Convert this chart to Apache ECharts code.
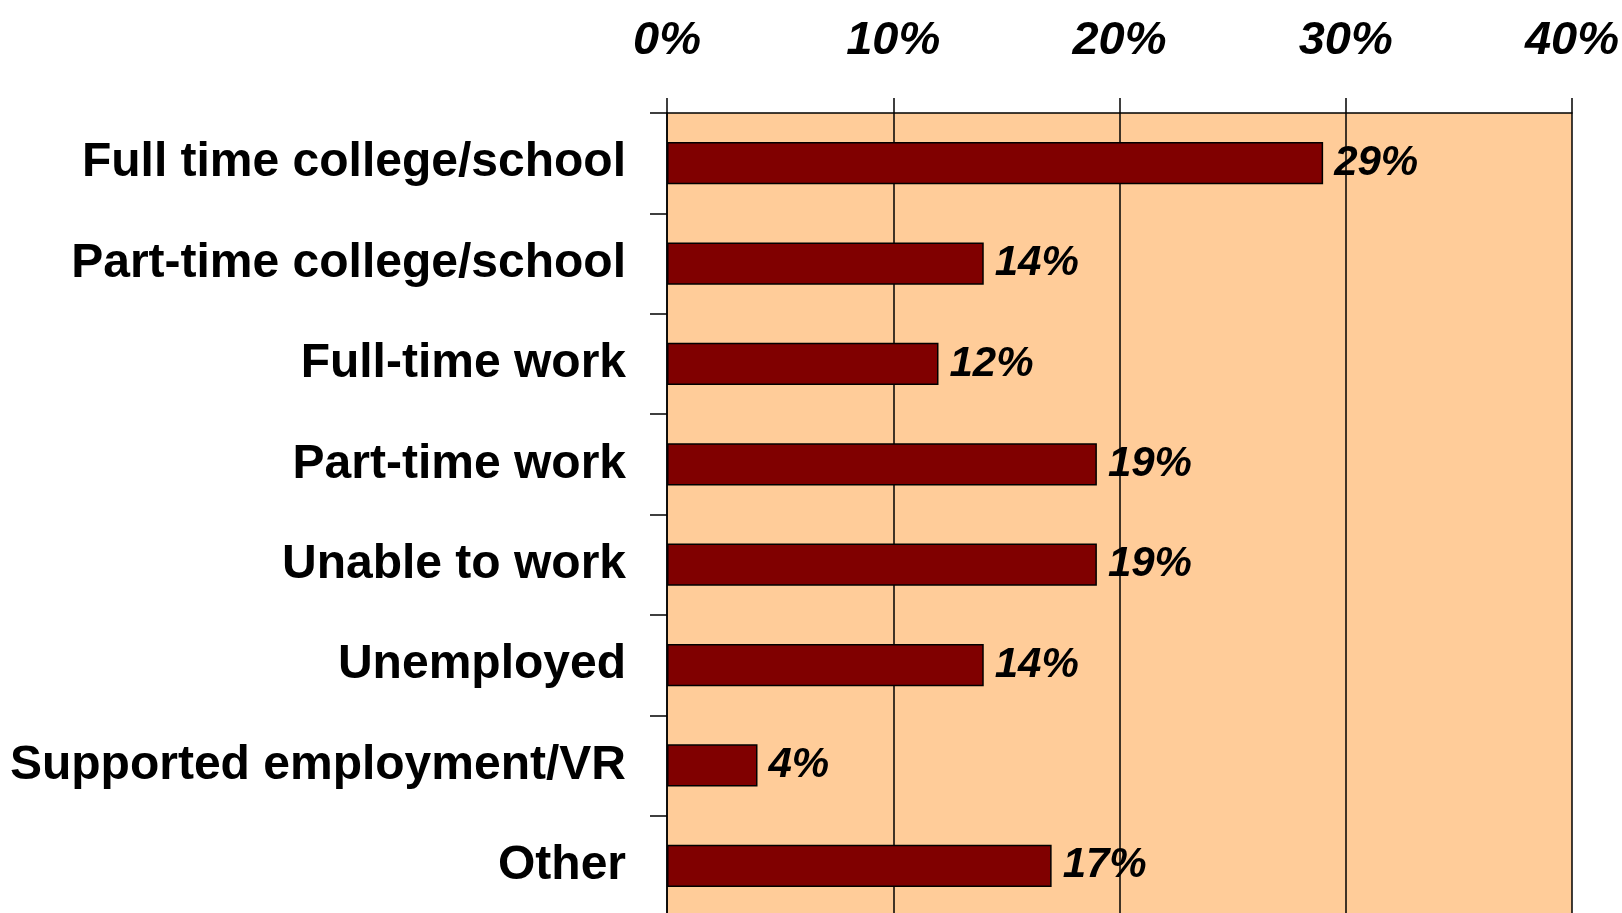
<!DOCTYPE html>
<html>
<head>
<meta charset="utf-8">
<script src="https://cdn.jsdelivr.net/npm/echarts@6/dist/echarts.min.js"></script>
<style>
* { margin: 0; padding: 0; }
html, body { background: #fff; }
</style>
</head>
<body>
<!-- chart container -->
<div id="main" style="width: 1622px;height: 913px;"></div>
<script>
var categories = [
  "Full time college/school",
  "Part-time college/school",
  "Full-time work",
  "Part-time work",
  "Unable to work",
  "Unemployed",
  "Supported employment/VR",
  "Other"
];
var percents = [29, 14, 12, 19, 19, 14, 4, 17];
var axisMax = 40;
var axisStep = 10;

var chart = echarts.init(document.getElementById("main"));
var option = {
  animation: false,
  grid: {
    left: 667,
    right: 50,
    top: 113,
    bottom: -3,
    outerBoundsMode: "none",
    containLabel: false,
    show: true,
    backgroundColor: "#FFCC99",
    borderWidth: 0
  },
  xAxis: {
    type: "value",
    position: "top",
    min: 0,
    max: axisMax,
    interval: axisStep,
    axisLine: { show: true, lineStyle: { color: "#000", width: 1.5 } },
    axisTick: { show: true, length: 15, lineStyle: { color: "#000", width: 1.5 } },
    splitLine: { show: true, lineStyle: { color: "#000", width: 1.5 } },
    axisLabel: {
      margin: 48,
      formatter: "{value}%",
      color: "#000",
      fontFamily: "Liberation Sans, Arial, sans-serif",
      fontWeight: "bold",
      fontStyle: "italic",
      fontSize: 47
    }
  },
  yAxis: {
    type: "category",
    inverse: true,
    data: categories,
    axisLine: { show: true, lineStyle: { color: "#000", width: 1.5 } },
    axisTick: { show: true, length: 17, lineStyle: { color: "#000", width: 1.5 } },
    axisLabel: {
      margin: 41,
      padding: [12, 0, 0, 0],
      color: "#000",
      fontFamily: "Liberation Sans, Arial, sans-serif",
      fontWeight: "bold",
      fontSize: 48
    }
  },
  series: [
    {
      type: "bar",
      data: percents,
      barWidth: "42%",
      itemStyle: { color: "#800000", borderColor: "#000", borderWidth: 1.5 },
      label: {
        show: true,
        position: "right",
        distance: 11,
        padding: [10, 0, 0, 0],
        formatter: "{c}%",
        color: "#000",
        fontFamily: "Liberation Sans, Arial, sans-serif",
        fontWeight: "bold",
        fontStyle: "italic",
        fontSize: 42
      }
    }
  ]
};
chart.setOption(option);
</script>
</body>
</html>
